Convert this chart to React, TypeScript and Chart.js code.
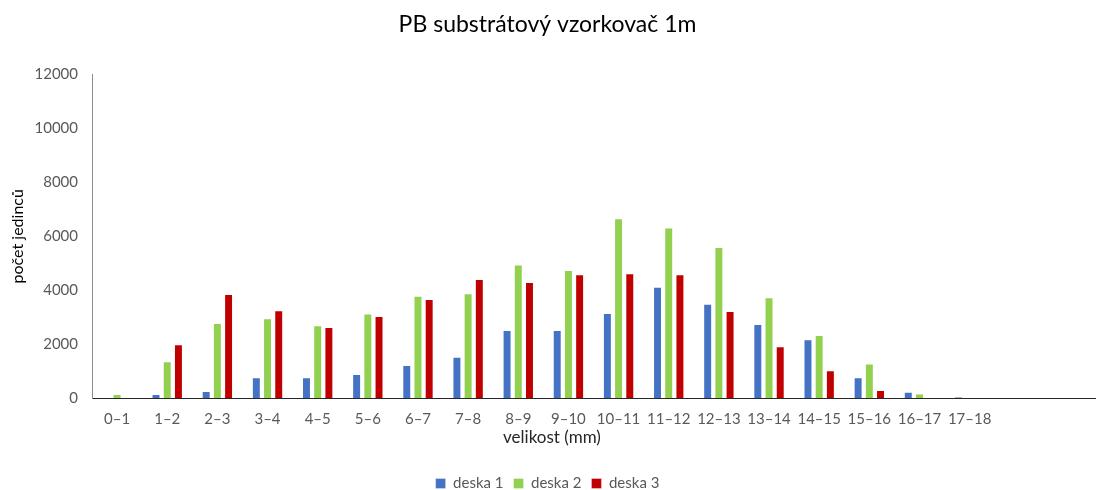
import React, { useEffect, useRef } from "react";
import { Chart, registerables } from "chart.js";

Chart.register(...registerables);

const categories = [
  "0–1", "1–2", "2–3", "3–4", "4–5", "5–6", "6–7", "7–8", "8–9", "9–10",
  "10–11", "11–12", "12–13", "13–14", "14–15", "15–16", "16–17", "17–18", "", "",
];
const deska1 = [0, 150, 260, 770, 770, 890, 1220, 1530, 2520, 2520, 3150, 4130, 3500, 2750, 2180, 770, 230, 40, 0, 0];
const deska2 = [150, 1360, 2780, 2960, 2700, 3140, 3790, 3890, 4950, 4750, 6670, 6330, 5600, 3740, 2340, 1280, 170, 0, 0, 0];
const deska3 = [0, 1990, 3860, 3260, 2630, 3040, 3670, 4420, 4300, 4590, 4630, 4590, 3230, 1920, 1030, 300, 0, 0, 0, 0];
const yTicks = [0, 2000, 4000, 6000, 8000, 10000, 12000];

const FONT = "Lato, 'Noto Sans', sans-serif";

export default function App() {
  const ref = useRef<HTMLCanvasElement | null>(null);
  useEffect(() => {
    document.body.style.margin = "0";
    const xTitlePlugin = {
      id: "xTitle",
      afterDraw(chart: any) {
        const { ctx, chartArea } = chart;
        ctx.save();
        ctx.font = `17px ${FONT}`;
        ctx.fillStyle = "#262626";
        ctx.textAlign = "center";
        ctx.textBaseline = "middle";
        const x = chartArea.left + (chartArea.right - chartArea.left) * 0.4586;
        ctx.fillText("velikost (mm)", x, chartArea.bottom + 40);
        ctx.restore();
      },
    };
    const chart = new Chart(ref.current!, {
      type: "bar",
      data: {
        labels: categories,
        datasets: [
          { label: "deska 1", data: deska1, backgroundColor: "#4472C4", borderColor: "rgba(255,255,255,0.35)", borderWidth: 1 },
          { label: "deska 2", data: deska2, backgroundColor: "#92D050", borderColor: "rgba(255,255,255,0.35)", borderWidth: 1 },
          { label: "deska 3", data: deska3, backgroundColor: "#C00000", borderColor: "rgba(255,255,255,0.35)", borderWidth: 1 },
        ],
      },
      options: {
        animation: false,
        responsive: false,
        layout: { padding: { left: 0, right: 1, top: 0, bottom: -11 } },
        datasets: { bar: { categoryPercentage: 0.67, barPercentage: 0.8 } },
        plugins: {
          title: {
            display: true,
            text: "PB substrátový vzorkovač 1m",
            color: "#000000",
            font: { family: FONT, size: 23, weight: "normal" },
            padding: { top: 11, bottom: 36 },
          },
          legend: {
            position: "bottom",
            labels: {
              boxWidth: 10,
              boxHeight: 10,
              color: "#595959",
              font: { family: FONT, size: 15 },
              padding: 10,
            },
          },
          tooltip: { enabled: false },
        },
        scales: {
          x: {
            grid: { display: false, drawTicks: false },
            border: { color: "#262626", width: 1 },
            ticks: { color: "#595959", font: { family: FONT, size: 15 }, padding: 12, maxRotation: 0, autoSkip: false },
            afterFit(scale: any) { scale.height = 68; },
          },
          y: {
            min: 0,
            max: 12000,
            afterBuildTicks(scale: any) { scale.ticks = yTicks.map((v) => ({ value: v })); },
            grid: { display: false, drawTicks: false },
            border: { color: "#8c8c8c", width: 1 },
            ticks: {
              color: "#595959",
              font: { family: FONT, size: 15 },
              padding: 14,
              callback: (v: any) => String(v),
            },
            title: { display: true, text: "počet jedinců", color: "#000000", font: { family: FONT, size: 16 }, padding: 8 },
            afterFit(scale: any) { scale.width = 92; },
          },
        },
      },
      plugins: [xTitlePlugin],
    });
    return () => chart.destroy();
  }, []);
  return <canvas ref={ref} width={1096} height={490} style={{ display: "block" }} />;
}
